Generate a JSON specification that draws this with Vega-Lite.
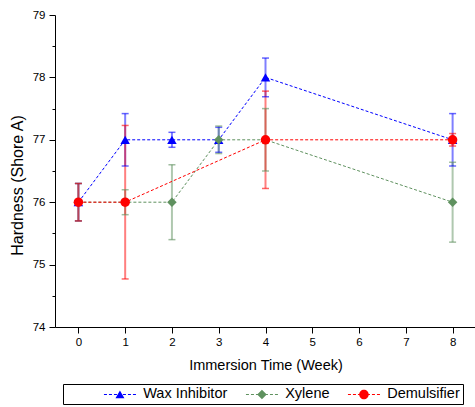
{
  "$schema": "https://vega.github.io/schema/vega-lite/v6.json",
  "width": 421,
  "height": 312,
  "autosize": {"type": "none"},
  "padding": {"left": 55, "top": 15, "right": 0, "bottom": 80},
  "config": {
    "font": "Liberation Sans",
    "view": {"stroke": null},
    "axis": {"domainColor": "black", "tickColor": "black", "labelColor": "black", "titleColor": "black", "grid": false, "titleFontWeight": "normal", "domainWidth": 1, "tickWidth": 1}
  },
  "data": {
    "values": [
      {"series": "Wax Inhibitor", "week": 0, "value": 76, "lo": 75.7, "hi": 76.3},
      {"series": "Wax Inhibitor", "week": 1, "value": 77, "lo": 76.58, "hi": 77.42},
      {"series": "Wax Inhibitor", "week": 2, "value": 77, "lo": 76.88, "hi": 77.12},
      {"series": "Wax Inhibitor", "week": 3, "value": 77, "lo": 76.8, "hi": 77.2},
      {"series": "Wax Inhibitor", "week": 4, "value": 78, "lo": 77.69, "hi": 78.31},
      {"series": "Wax Inhibitor", "week": 8, "value": 77, "lo": 76.58, "hi": 77.42},
      {"series": "Xylene", "week": 0, "value": 76, "lo": 75.7, "hi": 76.3},
      {"series": "Xylene", "week": 1, "value": 76, "lo": 75.8, "hi": 76.2},
      {"series": "Xylene", "week": 2, "value": 76, "lo": 75.4, "hi": 76.6},
      {"series": "Xylene", "week": 3, "value": 77, "lo": 76.78, "hi": 77.22},
      {"series": "Xylene", "week": 4, "value": 77, "lo": 76.5, "hi": 77.5},
      {"series": "Xylene", "week": 8, "value": 76, "lo": 75.36, "hi": 76.64},
      {"series": "Demulsifier", "week": 0, "value": 76, "lo": 75.7, "hi": 76.3},
      {"series": "Demulsifier", "week": 1, "value": 76, "lo": 74.77, "hi": 77.23},
      {"series": "Demulsifier", "week": 4, "value": 77, "lo": 76.22, "hi": 77.78},
      {"series": "Demulsifier", "week": 8, "value": 77, "lo": 76.9, "hi": 77.1}
    ]
  },
  "layer": [
    {
      "mark": {"type": "rule", "strokeWidth": 2, "opacity": 0.5},
      "encoding": {
        "x": {"field": "week", "type": "quantitative", "scale": {"domain": [-0.5, 8.5], "nice": false, "zero": false}, "axis": null},
        "y": {"field": "lo", "type": "quantitative", "scale": {"domain": [74, 79], "nice": false, "zero": false}, "axis": null},
        "y2": {"field": "hi"},
        "color": {"field": "series", "type": "nominal", "scale": {"domain": ["Wax Inhibitor", "Xylene", "Demulsifier"], "range": ["#0000FF", "#5F915F", "#FF0000"]}, "legend": null}
      }
    },
    {
      "mark": {"type": "tick", "orient": "horizontal", "size": 7, "thickness": 1.5, "opacity": 0.6},
      "encoding": {
        "x": {"field": "week", "type": "quantitative", "scale": {"domain": [-0.5, 8.5], "nice": false, "zero": false}, "axis": null},
        "y": {"field": "lo", "type": "quantitative", "scale": {"domain": [74, 79], "nice": false, "zero": false}, "axis": null},
        "color": {"field": "series", "type": "nominal", "scale": {"domain": ["Wax Inhibitor", "Xylene", "Demulsifier"], "range": ["#0000FF", "#5F915F", "#FF0000"]}, "legend": null}
      }
    },
    {
      "mark": {"type": "tick", "orient": "horizontal", "size": 7, "thickness": 1.5, "opacity": 0.6},
      "encoding": {
        "x": {"field": "week", "type": "quantitative", "scale": {"domain": [-0.5, 8.5], "nice": false, "zero": false}, "axis": null},
        "y": {"field": "hi", "type": "quantitative", "scale": {"domain": [74, 79], "nice": false, "zero": false}, "axis": null},
        "color": {"field": "series", "type": "nominal", "scale": {"domain": ["Wax Inhibitor", "Xylene", "Demulsifier"], "range": ["#0000FF", "#5F915F", "#FF0000"]}, "legend": null}
      }
    },
    {
      "mark": {"type": "line", "strokeWidth": 1, "strokeDash": [3, 2]},
      "encoding": {
        "x": {"field": "week", "type": "quantitative", "scale": {"domain": [-0.5, 8.5], "nice": false, "zero": false},
          "axis": {"orient": "bottom", "title": "Immersion Time (Week)", "values": [0, 1, 2, 3, 4, 5, 6, 7, 8], "tickSize": 6, "labelFontSize": 11.5, "labelPadding": 3, "titleFontSize": 14.5, "titlePadding": 11, "labelFlush": false}},
        "y": {"field": "value", "type": "quantitative", "scale": {"domain": [74, 79], "nice": false, "zero": false},
          "axis": {"orient": "left", "title": "Hardness (Shore A)", "values": [74, 74.5, 75, 75.5, 76, 76.5, 77, 77.5, 78, 78.5, 79],
            "tickSize": {"condition": {"test": "datum.value % 1 === 0", "value": 6}, "value": 3},
            "labelExpr": "datum.value % 1 === 0 ? format(datum.value, 'd') : ''", "labelOverlap": false,
            "labelFontSize": 11.5, "labelPadding": 4, "titleFontSize": 16, "titleAngle": -90, "titleX": -38, "titleY": 170, "titleAlign": "center", "titleBaseline": "middle"}},
        "color": {"field": "series", "type": "nominal", "scale": {"domain": ["Wax Inhibitor", "Xylene", "Demulsifier"], "range": ["#0000FF", "#5F915F", "#FF0000"]}, "legend": null}
      }
    },
    {
      "mark": {"type": "point", "filled": true, "size": 90, "opacity": 1},
      "encoding": {
        "x": {"field": "week", "type": "quantitative", "scale": {"domain": [-0.5, 8.5], "nice": false, "zero": false}, "axis": null},
        "y": {"field": "value", "type": "quantitative", "scale": {"domain": [74, 79], "nice": false, "zero": false}, "axis": null},
        "color": {"field": "series", "type": "nominal", "scale": {"domain": ["Wax Inhibitor", "Xylene", "Demulsifier"], "range": ["#0000FF", "#5F915F", "#FF0000"]}, "legend": null},
        "shape": {"field": "series", "type": "nominal", "scale": {"domain": ["Wax Inhibitor", "Xylene", "Demulsifier"], "range": ["triangle-up", "diamond", "circle"]}, "legend": null}
      }
    },
    {
      "mark": {"type": "point", "filled": true, "size": 100, "opacity": 0},
      "encoding": {
        "x": {"field": "week", "type": "quantitative", "scale": {"domain": [-0.5, 8.5], "nice": false, "zero": false}, "axis": null},
        "y": {"field": "value", "type": "quantitative", "scale": {"domain": [74, 79], "nice": false, "zero": false}, "axis": null},
        "color": {"field": "series", "type": "nominal", "scale": {"domain": ["Wax Inhibitor", "Xylene", "Demulsifier"], "range": ["#0000FF", "#5F915F", "#FF0000"]},
          "legend": {"orient": "none", "legendX": 8, "legendY": 369, "direction": "horizontal", "title": "\u00a0", "titleOrient": "left", "titlePadding": 46.7, "titleFontSize": 14.5, "titleFontWeight": "normal", "labelFontSize": 14.5, "labelColor": "black", "labelOffset": 16, "columnPadding": 18, "padding": 3, "strokeColor": "black", "symbolSize": 100, "symbolStrokeWidth": 0, "symbolOpacity": 1, "labelExpr": "datum.label + '\u00a0\u00a0\u00a0'"}},
        "shape": {"field": "series", "type": "nominal", "scale": {"domain": ["Wax Inhibitor", "Xylene", "Demulsifier"], "range": [
          "M0,-0.8L0.9,0.75L-0.9,0.75Z M-3.2,-0.1h0.6v0.2h-0.6Z M-2.2,-0.1h0.6v0.2h-0.6Z M-1.2,-0.1h0.6v0.2h-0.6Z M0.6,-0.1h0.6v0.2h-0.6Z M1.6,-0.1h0.6v0.2h-0.6Z M2.6,-0.1h0.6v0.2h-0.6Z",
          "M0,-0.95L0.95,0L0,0.95L-0.95,0Z M-3.2,-0.1h0.6v0.2h-0.6Z M-2.2,-0.1h0.6v0.2h-0.6Z M-1.2,-0.1h0.6v0.2h-0.6Z M0.6,-0.1h0.6v0.2h-0.6Z M1.6,-0.1h0.6v0.2h-0.6Z M2.6,-0.1h0.6v0.2h-0.6Z",
          "M-0.95,0A0.95,0.95,0,1,1,0.95,0A0.95,0.95,0,1,1,-0.95,0Z M-3.2,-0.1h0.6v0.2h-0.6Z M-2.2,-0.1h0.6v0.2h-0.6Z M-1.2,-0.1h0.6v0.2h-0.6Z M0.6,-0.1h0.6v0.2h-0.6Z M1.6,-0.1h0.6v0.2h-0.6Z M2.6,-0.1h0.6v0.2h-0.6Z"]},
          "legend": {"orient": "none", "legendX": 8, "legendY": 369, "direction": "horizontal", "title": "\u00a0", "titleOrient": "left", "titlePadding": 46.7, "titleFontSize": 14.5, "titleFontWeight": "normal", "labelFontSize": 14.5, "labelColor": "black", "labelOffset": 16, "columnPadding": 18, "padding": 3, "strokeColor": "black", "symbolSize": 100, "symbolStrokeWidth": 0, "symbolOpacity": 1, "labelExpr": "datum.label + '\u00a0\u00a0\u00a0'"}}
      }
    }
  ],
  "resolve": {"scale": {"color": "independent", "shape": "independent"}, "axis": {"x": "independent", "y": "independent"}}
}
